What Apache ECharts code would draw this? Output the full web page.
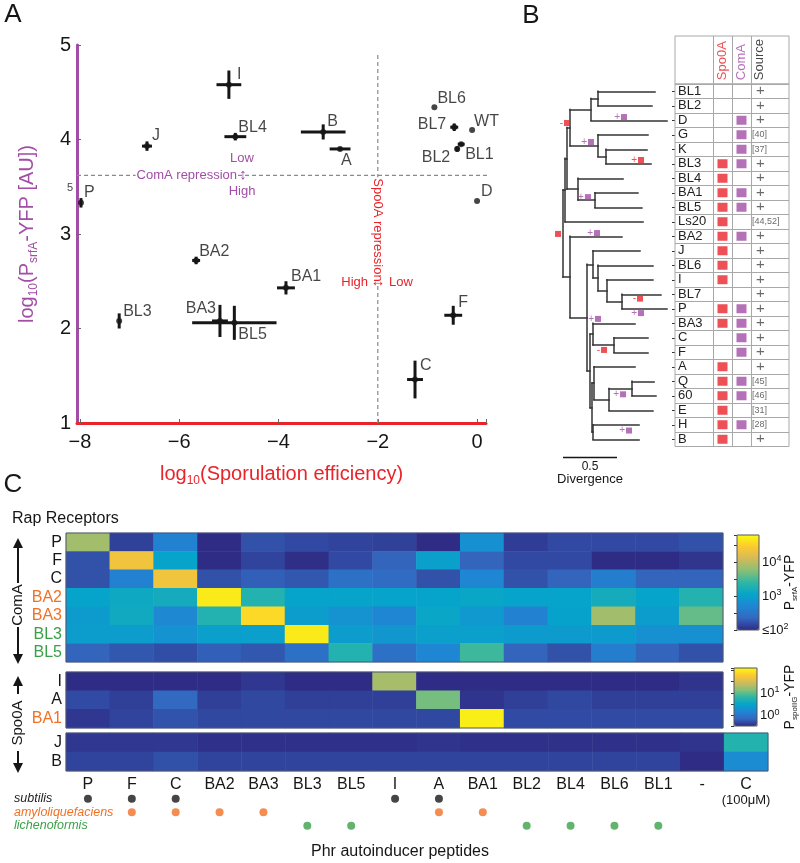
<!DOCTYPE html>
<html>
<head>
<meta charset="utf-8">
<script src="https://cdn.jsdelivr.net/npm/echarts/dist/echarts.min.js"></script>
<style>html,body{margin:0;padding:0;background:#fff}#main{width:800px;height:863px}</style>
</head>
<body>
<div id="main"></div>
<script>
var FONT = '"Liberation Sans", Arial, Helvetica, sans-serif';
var RED = '#e8242a', PURPLE = '#a24da6', ORANGE = '#f07125', GREEN = '#3aa048', INK = '#161616';

// ---- panel A: sporulation vs srfA expression
var strainNames = ['I', 'J', 'BL4', 'B', 'A', 'P', 'BA2', 'BA1', 'BL3', 'BA3', 'BL5', 'BL6', 'BL7', 'WT', 'BL2', 'BL1', 'D', 'F', 'C'];
var sporeEff = [-5.0, -6.65, -4.87, -3.1, -2.76, -7.98, -5.66, -3.85, -7.21, -5.18, -4.89, -0.86, -0.46, -0.1, -0.4, -0.32, 0.0, -0.48, -1.25];
var srfaLevel = [4.58, 3.93, 4.03, 4.08, 3.9, 3.33, 2.72, 2.43, 2.08, 2.08, 2.06, 4.34, 4.13, 4.1, 3.9, 3.95, 3.35, 2.14, 1.46];
var sporeErr = [0.25, 0.1, 0.22, 0.45, 0.21, 0.02, 0.08, 0.18, 0.02, 0.16, 0.85, 0, 0.08, 0, 0.05, 0.07, 0, 0.18, 0.16];
var srfaErr = [0.15, 0.05, 0.04, 0.08, 0.02, 0.05, 0.04, 0.07, 0.08, 0.17, 0.18, 0, 0.04, 0, 0.03, 0.02, 0, 0.1, 0.2];
var comaCut = 3.62, spo0aCut = -2;

// ---- panel B: tree + table
var treeRows = ['BL1', 'BL2', 'D', 'G', 'K', 'BL3', 'BL4', 'BA1', 'BL5', 'Ls20', 'BA2', 'J', 'BL6', 'I', 'BL7', 'P', 'BA3', 'C', 'F', 'A', 'Q', '60', 'E', 'H', 'B'];
var tipLength = [0.852, 0.824, 0.963, 0.787, 0.778, 0.815, 0.556, 0.694, 0.731, 0.741, 0.546, 0.713, 0.833, 0.833, 0.907, 0.963, 0.667, 0.787, 0.787, 0.667, 0.843, 0.861, 0.833, 0.704, 0.704];
// [node depth, child, child]
var treeShape = [0,
    [0.019,
        [0.037,
            [0.065, [0.259, [0.324, 'BL1', 'BL2'], 'D'], [0.324, 'G', [0.398, 'K', 'BL3']]],
            [0.139, 'BL4', [0.296, 'BA1', 'BL5']]],
        'Ls20'],
    [0.065, 'BA2',
        [0.222,
            [0.278, 'J', [0.324, 'BL6', [0.407, 'I', [0.546, 'BL7', 'P']]]],
            [0.25,
                [0.278, 'BA3', [0.472, 'C', 'F']],
                [0.269, [0.287, 'A', [0.426, [0.639, 'Q', '60'], 'E']], [0.278, 'H', 'B']]]]]];
// gain/loss events on branches: [depth, row, regulator, sign]
var branchEvents = [
    [0.037, 2.19, 'Spo0A', '-'], [0.565, 1.78, 'ComA', '+'], [0.259, 3.5, 'ComA', '+'],
    [0.722, 4.74, 'Spo0A', '+'], [0.231, 7.3, 'ComA', '+'], [-0.046, 9.84, 'Spo0A', ''],
    [0.315, 9.78, 'ComA', '+'], [0.713, 14.3, 'Spo0A', '-'], [0.722, 15.3, 'ComA', '+'],
    [0.324, 15.7, 'ComA', '+'], [0.38, 17.84, 'Spo0A', '-'], [0.556, 20.9, 'ComA', '+'],
    [0.611, 23.4, 'ComA', '+']
];
var spo0aRows = ['BL3', 'BL4', 'BA1', 'BL5', 'Ls20', 'BA2', 'J', 'BL6', 'I', 'P', 'BA3', 'A', 'Q', '60', 'E', 'H', 'B'];
var comaRows = ['D', 'G', 'K', 'BL3', 'BA1', 'BL5', 'BA2', 'P', 'BA3', 'C', 'F', 'Q', '60', 'H'];
var sourceText = ['+', '+', '+', '[40]', '[37]', '+', '+', '+', '+', '[44,52]', '+', '+', '+', '+', '+', '+', '+', '+', '+', '+', '[45]', '[46]', '[31]', '[28]', '+'];
var tableHeads = ['Spo0A', 'ComA', 'Source'];

// ---- panel C: heatmaps (log10 reporter)
var pepCols = ['P', 'F', 'C', 'BA2', 'BA3', 'BL3', 'BL5', 'I', 'A', 'BA1', 'BL2', 'BL4', 'BL6', 'BL1', '-', 'C (100μM)'];
var comaRecRows = ['P', 'F', 'C', 'BA2', 'BA3', 'BL3', 'BL5'];
var spoRecRows = ['I', 'A', 'BA1'];
var ctrlRows = ['J', 'B'];
var srfaMatrix = [
    [3.88, 2.12, 2.65, 2.0, 2.22, 2.17, 2.14, 2.12, 2.0, 2.82, 2.1, 2.17, 2.17, 2.17, 2.22],
    [2.22, 4.35, 3.05, 2.0, 2.14, 2.02, 2.17, 2.33, 3.0, 2.33, 2.17, 2.17, 2.0, 2.0, 2.05],
    [2.22, 2.65, 4.35, 2.22, 2.3, 2.25, 2.45, 2.4, 2.22, 2.7, 2.22, 2.33, 2.6, 2.33, 2.33],
    [3.05, 3.12, 3.18, 4.68, 3.3, 3.05, 3.05, 3.05, 3.05, 3.08, 3.05, 3.05, 3.18, 3.05, 3.3],
    [2.95, 3.15, 2.72, 3.3, 4.57, 2.97, 2.85, 2.7, 3.08, 2.92, 2.65, 3.03, 3.88, 2.97, 3.62],
    [2.97, 2.97, 2.85, 3.0, 3.0, 4.68, 2.97, 2.9, 3.0, 3.0, 2.95, 2.95, 2.95, 2.82, 2.82],
    [2.33, 2.25, 2.2, 2.3, 2.25, 2.45, 3.3, 2.45, 2.7, 3.46, 2.33, 2.22, 2.6, 2.33, 2.22]
];
var spoMatrix = [
    [-0.46, -0.46, -0.46, -0.46, -0.4, -0.46, -0.46, 1.28, -0.46, -0.46, -0.46, -0.46, -0.46, -0.46, -0.42],
    [-0.3, -0.36, -0.12, -0.36, -0.31, -0.36, -0.36, -0.36, 1.08, -0.42, -0.36, -0.31, -0.36, -0.36, -0.36],
    [-0.4, -0.33, -0.25, -0.31, -0.31, -0.31, -0.31, -0.31, -0.31, 2.02, -0.3, -0.3, -0.3, -0.3, -0.3]
];
var ctrlMatrix = [
    [-0.4, -0.4, -0.4, -0.44, -0.44, -0.44, -0.44, -0.44, -0.42, -0.44, -0.44, -0.44, -0.44, -0.44, -0.42, 0.74],
    [-0.33, -0.33, -0.27, -0.33, -0.33, -0.33, -0.33, -0.33, -0.33, -0.33, -0.33, -0.33, -0.33, -0.33, -0.46, 0.23]
];
var speciesNames = ['subtilis', 'amyloliquefaciens', 'lichenoformis'];
var subtilisPeps = ['P', 'F', 'C', 'I', 'A'];
var amyloPeps = ['F', 'C', 'BA2', 'BA3', 'A', 'BA1'];
var licheniPeps = ['BL3', 'BL5', 'BL2', 'BL4', 'BL6', 'BL1'];
var receptorSpecies = { BA2: 'o', BA3: 'o', BA1: 'o', BL3: 'g', BL5: 'g' };

// parula-like map, a little muted like the printed figure
var parula = ['#2f2c85', '#3368c0', '#1f86d4', '#06a4ca', '#2eb7a4', '#87bf77', '#d1bb59', '#fec832', '#f9fb0e'];

// label placement for panel A points: [dx, dy, align]
var labelPlace = {
    I: [8, -10, 'left'], J: [5, -11, 'left'], BL4: [3, -9, 'left'], B: [4, -10, 'left'], A: [1, 12, 'left'],
    P: [3, -10, 'left'], BA2: [3, -9, 'left'], BA1: [5, -11, 'left'], BL3: [4, -9, 'left'], BA3: [-4, -12, 'right'],
    BL5: [4, 12, 'left'], BL6: [3, -9, 'left'], BL7: [-8, -3, 'right'], WT: [2, -8, 'left'], BL2: [-7, 9, 'right'],
    BL1: [4, 10, 'left'], D: [4, -9, 'left'], F: [5, -13, 'left'], C: [5, -14, 'left']
};

// tree -> branch segments
var treeSegs = [];
function layoutTree(node) {
    if (typeof node === 'string') {
        var i = treeRows.indexOf(node);
        return { x: tipLength[i], y: i };
    }
    var a = layoutTree(node[1]), b = layoutTree(node[2]), x = node[0];
    treeSegs.push([[x, a.y], [a.x, a.y]]);
    treeSegs.push([[x, b.y], [b.x, b.y]]);
    treeSegs.push([[x, a.y], [x, b.y]]);
    return { x: x, y: (a.y + b.y) / 2 };
}
layoutTree(treeShape);

function heatData(matrix, rows, cols) {
    var out = [];
    matrix.forEach(function (r, i) {
        r.forEach(function (v, j) { out.push([cols[j], rows[i], v]); });
    });
    return out;
}

function hiddenAxis(o) {
    return Object.assign({
        show: true, axisLine: { show: false }, axisTick: { show: false },
        axisLabel: { show: false }, splitLine: { show: false }
    }, o);
}

function txt(x, y, text, size, color, extra, rot) {
    return {
        type: 'text', x: x, y: y, z: 100, rotation: rot || 0, silent: true,
        style: Object.assign({
            text: text, fontSize: size, fontFamily: FONT, fill: color,
            align: 'center', verticalAlign: 'middle'
        }, extra || {})
    };
}

function arrowV(x, yTail, yTip) {
    var d = yTip < yTail ? -1 : 1;
    return [
        { type: 'line', z: 100, shape: { x1: x, y1: yTail, x2: x, y2: yTip - d * 6 }, style: { stroke: INK, lineWidth: 2 } },
        { type: 'polygon', z: 100, shape: { points: [[x, yTip], [x - 5, yTip - d * 10], [x + 5, yTip - d * 10]] }, style: { fill: INK } }
    ];
}

function rowLabel(v) { return '{' + (receptorSpecies[v] || 'k') + '|' + v + '}'; }
var rowRich = {
    k: { color: INK, fontSize: 16, fontFamily: FONT },
    o: { color: ORANGE, fontSize: 16, fontFamily: FONT },
    g: { color: GREEN, fontSize: 16, fontFamily: FONT }
};

function powLabel(lo, hi, leq) {
    return function (v) {
        var p = Math.round(v);
        if (Math.abs(v - p) > 1e-6 || p < lo || p > hi) return '';
        return (p === leq ? '{b|≤10}' : '{b|10}') + '{p|' + p + '}';
    };
}
var powRich = {
    b: { fontSize: 13, lineHeight: 16, color: INK, fontFamily: FONT },
    p: { fontSize: 9, lineHeight: 9, verticalAlign: 'top', color: INK, fontFamily: FONT }
};

var G = { containLabel: false, outerBoundsMode: 'none' };
var grids = [
    Object.assign({ left: 77, top: 45, width: 409, height: 378 }, G),
    Object.assign({ left: 563, top: 84, width: 108, height: 362.5 }, G),
    Object.assign({ left: 675, top: 84, width: 114, height: 362.5, show: true, borderColor: '#a8a8a8', borderWidth: 1, z: 10 }, G),
    Object.assign({ left: 675, top: 36, width: 114, height: 48, show: true, borderColor: '#a8a8a8', borderWidth: 1, z: 10 }, G),
    Object.assign({ left: 66, top: 533, width: 657, height: 129, show: true, borderColor: '#4c5673', borderWidth: 1, z: 10 }, G),
    Object.assign({ left: 66, top: 672, width: 657, height: 56, show: true, borderColor: '#4c5673', borderWidth: 1, z: 10 }, G),
    Object.assign({ left: 66, top: 733, width: 702, height: 38, show: true, borderColor: '#4c5673', borderWidth: 1, z: 10 }, G),
    Object.assign({ left: 66, top: 792, width: 702, height: 40.5 }, G),
    Object.assign({ left: 737, top: 535, width: 22, height: 95, show: true, borderColor: '#555', borderWidth: 1, z: 10 }, G),
    Object.assign({ left: 734, top: 668, width: 23, height: 58, show: true, borderColor: '#555', borderWidth: 1, z: 10 }, G)
];

var xAxes = [
    {
        gridIndex: 0, type: 'value', min: -8.06, max: 0.18, splitNumber: 5,
        axisLine: { show: true, onZero: false, lineStyle: { color: RED, width: 3 } },
        axisTick: { show: true, inside: true, length: 4, lineStyle: { color: '#666' } },
        splitLine: { show: false },
        axisLabel: {
            margin: 9, fontSize: 20, color: INK, fontFamily: FONT,
            formatter: function (v) {
                var r = Math.round(v);
                if (Math.abs(v - r) > 1e-6 || r % 2 !== 0) return '';
                return r < 0 ? '\u2212' + (-r) : '' + r;
            }
        },
        name: '{a|log}{s|10}{a|(Sporulation efficiency)}', nameLocation: 'middle', nameGap: 38, nameMoveOverlap: false,
        nameTextStyle: {
            rich: {
                a: { fontSize: 20, lineHeight: 26, color: RED, fontFamily: FONT },
                s: { fontSize: 12, lineHeight: 10, verticalAlign: 'bottom', color: RED, fontFamily: FONT }
            }
        }
    },
    hiddenAxis({ gridIndex: 1, type: 'value', min: 0, max: 1, show: false }),
    hiddenAxis({ gridIndex: 2, type: 'value', min: 0, max: 6, show: false }),
    hiddenAxis({ gridIndex: 3, type: 'value', min: 0, max: 6, show: false }),
    hiddenAxis({ gridIndex: 4, type: 'category', data: pepCols.slice(0, 15) }),
    hiddenAxis({ gridIndex: 5, type: 'category', data: pepCols.slice(0, 15) }),
    {
        gridIndex: 6, type: 'category', data: pepCols,
        axisLine: { show: false }, axisTick: { show: false }, splitLine: { show: false },
        axisLabel: {
            interval: 0, margin: 5,
            formatter: function (v) {
                var p = v.split(' ');
                return p.length > 1 ? '{m|' + p[0] + '}\n{u|' + p[1] + '}' : '{m|' + v + '}';
            },
            rich: {
                m: { fontSize: 16, lineHeight: 17, color: INK, fontFamily: FONT },
                u: { fontSize: 13, lineHeight: 15, color: INK, fontFamily: FONT }
            }
        }
    },
    hiddenAxis({ gridIndex: 7, type: 'category', data: pepCols }),
    hiddenAxis({ gridIndex: 8, type: 'value', min: 0, max: 1 }),
    hiddenAxis({ gridIndex: 9, type: 'value', min: 0, max: 1 })
];

var yAxes = [
    {
        gridIndex: 0, type: 'value', min: 1, max: 5, interval: 1,
        axisLine: { show: true, onZero: false, lineStyle: { color: PURPLE, width: 3 } },
        axisTick: { show: true, inside: true, length: 4, lineStyle: { color: '#666' } },
        splitLine: { show: false },
        axisLabel: { margin: 6, fontSize: 20, color: INK, fontFamily: FONT },
        name: '{a|log}{s|10}{a|(P}{s|srfA}{a|-YFP [AU])}', nameLocation: 'middle', nameGap: 37, nameMoveOverlap: false,
        nameTextStyle: {
            rich: {
                a: { fontSize: 20, lineHeight: 26, color: PURPLE, fontFamily: FONT },
                s: { fontSize: 12, lineHeight: 10, verticalAlign: 'bottom', color: PURPLE, fontFamily: FONT }
            }
        }
    },
    hiddenAxis({ gridIndex: 1, type: 'value', min: -0.5, max: 24.5, inverse: true, show: false }),
    {
        gridIndex: 2, type: 'category', data: treeRows, inverse: true,
        axisLine: { show: false },
        axisTick: { show: true, alignWithLabel: true, length: 3, lineStyle: { color: '#333' } },
        axisLabel: { inside: true, margin: 3, interval: 0, fontSize: 13, color: '#222', fontFamily: FONT },
        splitLine: { show: true, interval: 0, lineStyle: { color: '#a8a8a8', width: 1 } }
    },
    hiddenAxis({ gridIndex: 3, type: 'value', min: 0, max: 1, show: false }),
    {
        gridIndex: 4, type: 'category', data: comaRecRows, inverse: true,
        axisLine: { show: false }, axisTick: { show: false }, splitLine: { show: false },
        axisLabel: { interval: 0, margin: 4, formatter: rowLabel, rich: rowRich }
    },
    {
        gridIndex: 5, type: 'category', data: spoRecRows, inverse: true,
        axisLine: { show: false }, axisTick: { show: false }, splitLine: { show: false },
        axisLabel: { interval: 0, margin: 4, formatter: rowLabel, rich: rowRich }
    },
    {
        gridIndex: 6, type: 'category', data: ctrlRows, inverse: true,
        axisLine: { show: false }, axisTick: { show: false }, splitLine: { show: false },
        axisLabel: { interval: 0, margin: 4, formatter: rowLabel, rich: rowRich }
    },
    {
        gridIndex: 7, type: 'category', data: speciesNames, inverse: true,
        axisLine: { show: false }, axisTick: { show: false }, splitLine: { show: false },
        axisLabel: {
            interval: 0, margin: 52, align: 'left',
            formatter: function (v, i) { return '{s' + i + '|' + v + '}'; },
            rich: {
                s0: { color: '#222', fontSize: 12.5, fontStyle: 'italic', fontFamily: FONT },
                s1: { color: ORANGE, fontSize: 12.5, fontStyle: 'italic', fontFamily: FONT },
                s2: { color: GREEN, fontSize: 12.5, fontStyle: 'italic', fontFamily: FONT }
            }
        }
    },
    {
        gridIndex: 8, type: 'value', min: 2, max: 4.8, position: 'right',
        axisLine: { show: false }, splitLine: { show: false },
        axisTick: { show: true, inside: true, length: 3, lineStyle: { color: '#333' } },
        axisLabel: { margin: 3, formatter: powLabel(2, 4, 2), rich: powRich },
        name: '{a|P}{s|srfA}{a|-YFP}', nameLocation: 'middle', nameRotate: 90, nameGap: 22, nameMoveOverlap: false,
        nameTextStyle: {
            rich: {
                a: { fontSize: 14, lineHeight: 18, color: INK, fontFamily: FONT },
                s: { fontSize: 8, lineHeight: 8, verticalAlign: 'bottom', color: INK, fontFamily: FONT }
            }
        }
    },
    {
        gridIndex: 9, type: 'value', min: -0.46, max: 2.1, position: 'right',
        axisLine: { show: false }, splitLine: { show: false },
        axisTick: { show: true, inside: true, length: 3, lineStyle: { color: '#333' } },
        axisLabel: { margin: 3, formatter: powLabel(0, 1, -99), rich: powRich },
        name: '{a|P}{s|spoIIG}{a|-YFP}', nameLocation: 'middle', nameRotate: 90, nameGap: 24, nameMoveOverlap: false,
        nameTextStyle: {
            rich: {
                a: { fontSize: 14, lineHeight: 18, color: INK, fontFamily: FONT },
                s: { fontSize: 8, lineHeight: 8, verticalAlign: 'bottom', color: INK, fontFamily: FONT }
            }
        }
    }
];

var colDividers = {
    silent: true, symbol: 'none', label: { show: false },
    lineStyle: { color: '#a8a8a8', type: 'solid', width: 1 },
    data: [{ xAxis: 2 }, { xAxis: 3 }, { xAxis: 4 }]
};

var series = [
    { type: 'heatmap', xAxisIndex: 4, yAxisIndex: 4, data: heatData(srfaMatrix, comaRecRows, pepCols), itemStyle: { borderWidth: 0 }, emphasis: { disabled: true } },
    { type: 'heatmap', xAxisIndex: 5, yAxisIndex: 5, data: heatData(spoMatrix, spoRecRows, pepCols), itemStyle: { borderWidth: 0 }, emphasis: { disabled: true } },
    { type: 'heatmap', xAxisIndex: 6, yAxisIndex: 6, data: heatData(ctrlMatrix, ctrlRows, pepCols), itemStyle: { borderWidth: 0 }, emphasis: { disabled: true } },
    // panel A points
    {
        type: 'scatter', xAxisIndex: 0, yAxisIndex: 0, symbolSize: 6, z: 5,
        itemStyle: { color: INK },
        label: { show: true, position: 'inside', formatter: '{b}', fontSize: 16, color: INK, fontFamily: FONT, verticalAlign: 'middle' },
        data: strainNames.map(function (n, i) {
            var p = labelPlace[n];
            return { name: n, value: [sporeEff[i], srfaLevel[i]], label: { offset: [p[0], p[1]], align: p[2] } };
        })
    },
    // panel A error bars
    {
        type: 'custom', xAxisIndex: 0, yAxisIndex: 0, z: 4,
        data: strainNames.map(function (n, i) { return [sporeEff[i], srfaLevel[i], sporeErr[i], srfaErr[i]]; }),
        renderItem: function (params, api) {
            var x = api.value(0), y = api.value(1), ex = api.value(2), ey = api.value(3);
            var l = api.coord([x - ex, y]), r = api.coord([x + ex, y]);
            var t = api.coord([x, y + ey]), b = api.coord([x, y - ey]);
            return {
                type: 'group', children: [
                    { type: 'line', shape: { x1: l[0], y1: l[1], x2: r[0], y2: r[1] }, style: { stroke: INK, lineWidth: 3 } },
                    { type: 'line', shape: { x1: t[0], y1: t[1], x2: b[0], y2: b[1] }, style: { stroke: INK, lineWidth: 3 } }
                ]
            };
        }
    },
    {
        type: 'line', xAxisIndex: 0, yAxisIndex: 0, clip: false, symbol: 'none', silent: true, z: 1,
        lineStyle: { color: '#8a8a8a', width: 1.2, type: [4, 3] },
        data: [[-8.06, comaCut], [0.62, comaCut]]
    },
    {
        type: 'line', xAxisIndex: 0, yAxisIndex: 0, clip: false, symbol: 'none', silent: true, z: 1,
        lineStyle: { color: '#8a8a8a', width: 1.2, type: [4, 3] },
        data: [[spo0aCut, 1], [spo0aCut, 4.92]]
    },
    // panel B tree
    {
        type: 'lines', coordinateSystem: 'cartesian2d', xAxisIndex: 1, yAxisIndex: 1, polyline: false, silent: true,
        lineStyle: { color: '#333', width: 1.5, opacity: 1, curveness: 0, cap: 'square' },
        data: treeSegs.map(function (s) { return { coords: s }; })
    },
    {
        type: 'scatter', xAxisIndex: 1, yAxisIndex: 1, symbol: 'rect', symbolSize: 6, clip: false, z: 6,
        data: branchEvents.map(function (e) {
            var c = e[2] === 'Spo0A' ? RED : PURPLE;
            return { value: [e[0], e[1]], sign: e[3], itemStyle: { color: c }, label: { color: c } };
        }),
        label: {
            show: true, position: 'left', distance: 1, fontSize: 10, fontFamily: FONT,
            formatter: function (p) { return p.data.sign; }
        }
    },
    {
        type: 'line', xAxisIndex: 1, yAxisIndex: 1, clip: false, symbol: 'none', silent: true,
        lineStyle: { color: INK, width: 1.5 },
        data: [[0, 25.25], [0.5, 25.25]]
    },
    // panel B table
    {
        type: 'scatter', xAxisIndex: 2, yAxisIndex: 2, symbol: 'rect', symbolSize: [10, 9],
        itemStyle: { color: RED }, markLine: colDividers,
        data: spo0aRows.map(function (r) { return [2.5, r]; })
    },
    {
        type: 'scatter', xAxisIndex: 2, yAxisIndex: 2, symbol: 'rect', symbolSize: [10, 9],
        itemStyle: { color: PURPLE },
        data: comaRows.map(function (r) { return [3.5, r]; })
    },
    {
        type: 'scatter', xAxisIndex: 2, yAxisIndex: 2, symbolSize: 1, itemStyle: { color: 'transparent' },
        data: treeRows.map(function (r, i) {
            var plus = sourceText[i] === '+';
            return { value: [plus ? 4.5 : 4.05, r], txt: sourceText[i], label: { align: plus ? 'center' : 'left' } };
        }),
        label: {
            show: true, position: 'inside', verticalAlign: 'middle',
            formatter: function (p) { return p.data.txt === '+' ? '{p|+}' : '{r|' + p.data.txt + '}'; },
            rich: {
                p: { fontSize: 15, color: '#444', fontFamily: FONT },
                r: { fontSize: 9, color: '#444', fontFamily: FONT }
            }
        }
    },
    {
        type: 'scatter', xAxisIndex: 3, yAxisIndex: 3, symbolSize: 1, itemStyle: { color: 'transparent' },
        markLine: colDividers,
        data: tableHeads.map(function (h, i) {
            return { value: [[2.5, 3.5, 4.45][i], 0.08], txt: h, label: { color: [RED, PURPLE, INK][i] } };
        }),
        label: {
            show: true, position: 'inside', rotate: 90, align: 'left', verticalAlign: 'middle',
            fontSize: 13, fontFamily: FONT,
            formatter: function (p) { return p.data.txt; }
        }
    },
    // panel C species dots
    {
        type: 'scatter', xAxisIndex: 7, yAxisIndex: 7, symbolSize: 8, itemStyle: { color: INK },
        data: subtilisPeps.map(function (p) { return [p, speciesNames[0]]; })
    },
    {
        type: 'scatter', xAxisIndex: 7, yAxisIndex: 7, symbolSize: 8, itemStyle: { color: ORANGE },
        data: amyloPeps.map(function (p) { return [p, speciesNames[1]]; })
    },
    {
        type: 'scatter', xAxisIndex: 7, yAxisIndex: 7, symbolSize: 8, itemStyle: { color: GREEN },
        data: licheniPeps.map(function (p) { return [p, speciesNames[2]]; })
    }
];

var graphics = [
    txt(13, 15, 'A', 26, INK), txt(531, 16, 'B', 26, INK), txt(13, 485, 'C', 26, INK),
    txt(70, 188, '5', 11, '#444'),
    txt(238, 175, 'ComA repression', 13, PURPLE, { align: 'right', backgroundColor: '#fff', padding: [0, 1] }),
    txt(243, 175, '\u2195', 15, PURPLE),
    txt(242, 158, 'Low', 13, PURPLE), txt(242, 191, 'High', 13, PURPLE),
    txt(378, 230, 'Spo0A repression', 13, RED, { backgroundColor: '#fff', padding: [0, 1] }, -Math.PI / 2),
    txt(368, 282, 'High', 13, RED, { align: 'right' }),
    txt(378, 282, '\u2194', 15, RED),
    txt(389, 282, 'Low', 13, RED, { align: 'left' }),
    txt(590, 467, '0.5', 12, INK), txt(590, 479, 'Divergence', 13, INK),
    txt(12, 519, 'Rap Receptors', 16, INK, { align: 'left' }),
    txt(18, 605, 'ComA', 15, INK, { backgroundColor: '#fff' }, Math.PI / 2),
    txt(18, 723, 'Spo0A', 15, INK, { backgroundColor: '#fff' }, Math.PI / 2),
    txt(400, 852, 'Phr autoinducer peptides', 16, INK)
].concat(arrowV(18, 583, 538), arrowV(18, 627, 664), arrowV(18, 694, 676), arrowV(18, 751, 773));

var chart = echarts.init(document.getElementById('main'));
chart.setOption({
    animation: false,
    backgroundColor: '#fff',
    textStyle: { fontFamily: FONT },
    grid: grids,
    xAxis: xAxes,
    yAxis: yAxes,
    visualMap: [
        {
            type: 'continuous', seriesIndex: 0, min: 2, max: 4.8, inRange: { color: parula },
            show: true, calculable: false, hoverLink: false, text: null, padding: 0,
            left: 737, top: 535, itemWidth: 22, itemHeight: 95
        },
        {
            type: 'continuous', seriesIndex: [1, 2], min: -0.46, max: 2.1, inRange: { color: parula },
            show: true, calculable: false, hoverLink: false, text: null, padding: 0,
            left: 734, top: 668, itemWidth: 23, itemHeight: 58
        }
    ],
    series: series,
    graphic: graphics
});
</script>
</body>
</html>
